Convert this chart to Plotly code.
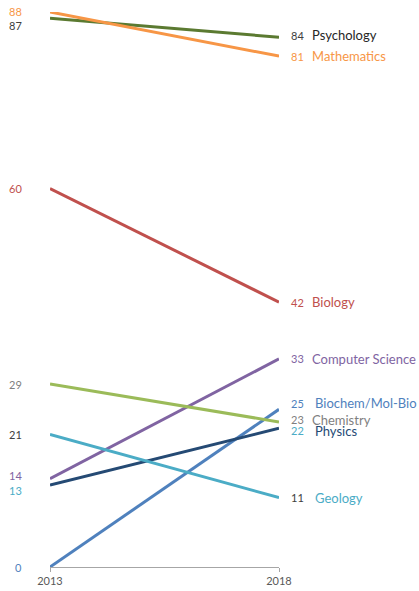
import plotly.graph_objects as go

# Slope chart: share (%) by field, 2013 vs 2018
years = [2013, 2018]
subjects = ["Psychology", "Mathematics", "Biology", "Computer Science",
            "Biochem/Mol-Bio", "Chemistry", "Physics", "Geology"]
values_2013 = [87, 88, 60, 14, 0, 29, 13, 21]
values_2018 = [84, 81, 42, 33, 25, 23, 22, 11]

line_colors = ["#5b7a31", "#f79646", "#c0504d", "#8064a2",
               "#4f81bd", "#9bbb59", "#254a74", "#4bacc6"]
# colours of the value labels (left, right) and of the name labels
left_label_colors = ["#404040", "#f79646", "#c0504d", "#8064a2",
                     "#4f81bd", "#7f7f7f", "#4bacc6", "#404040"]
right_label_colors = ["#404040", "#f79646", "#c0504d", "#8064a2",
                      "#4f81bd", "#7f7f7f", "#4bacc6", "#404040"]
name_colors = ["#262626", "#f79646", "#c0504d", "#8064a2",
               "#4f81bd", "#7f7f7f", "#254a74", "#4bacc6"]

# small vertical nudges (px) to keep crowded labels apart
left_shift = {"Psychology": -7, "Mathematics": 1, "Computer Science": 3, "Physics": -5}
right_shift = {"Psychology": 2, "Biochem/Mol-Bio": 6, "Chemistry": 2, "Physics": -2}
name_shift = {"Psychology": 2, "Biochem/Mol-Bio": 6, "Chemistry": 2, "Physics": -3}

FONT = "Lato, 'Open Sans', sans-serif"

fig = go.Figure()
for name, a, b, c in zip(subjects, values_2013, values_2018, line_colors):
    fig.add_trace(go.Scatter(
        x=years, y=[a, b], mode="lines", name=name,
        line=dict(color=c, width=3), cliponaxis=False, hoverinfo="skip",
    ))

annotations = []
for i, name in enumerate(subjects):
    annotations.append(dict(
        x=years[0], y=values_2013[i], text=str(values_2013[i]),
        xanchor="right", yanchor="middle", xshift=-26,
        yshift=left_shift.get(name, 0), showarrow=False,
        font=dict(family=FONT, size=11, color=left_label_colors[i]),
    ))
    annotations.append(dict(
        x=years[1], y=values_2018[i], text=str(values_2018[i]),
        xanchor="left", yanchor="middle", xshift=10,
        yshift=right_shift.get(name, 0), showarrow=False,
        font=dict(family=FONT, size=11, color=right_label_colors[i]),
    ))
    annotations.append(dict(
        x=years[1], y=values_2018[i], text=name,
        xanchor="left", yanchor="middle",
        xshift=34 if name in ("Biochem/Mol-Bio", "Physics", "Geology") else 31,
        yshift=name_shift.get(name, 0), showarrow=False,
        font=dict(family=FONT, size=13, color=name_colors[i]),
    ))

fig.update_layout(
    width=419, height=591,
    margin=dict(l=50, r=140, t=12, b=24),
    paper_bgcolor="white", plot_bgcolor="white",
    showlegend=False,
    annotations=annotations,
    xaxis=dict(
        range=[2013, 2018], tickvals=years, ticktext=[str(y) for y in years],
        showgrid=False, zeroline=False, showline=True, linecolor="#a6a6a6",
        linewidth=1, ticks="outside", ticklen=4, tickcolor="#a6a6a6",
        tickfont=dict(family=FONT, size=11, color="#595959"),
        automargin=False,
    ),
    yaxis=dict(range=[0, 88], visible=False, showgrid=False, zeroline=False,
               automargin=False),
)

fig.write_html("out.html")
